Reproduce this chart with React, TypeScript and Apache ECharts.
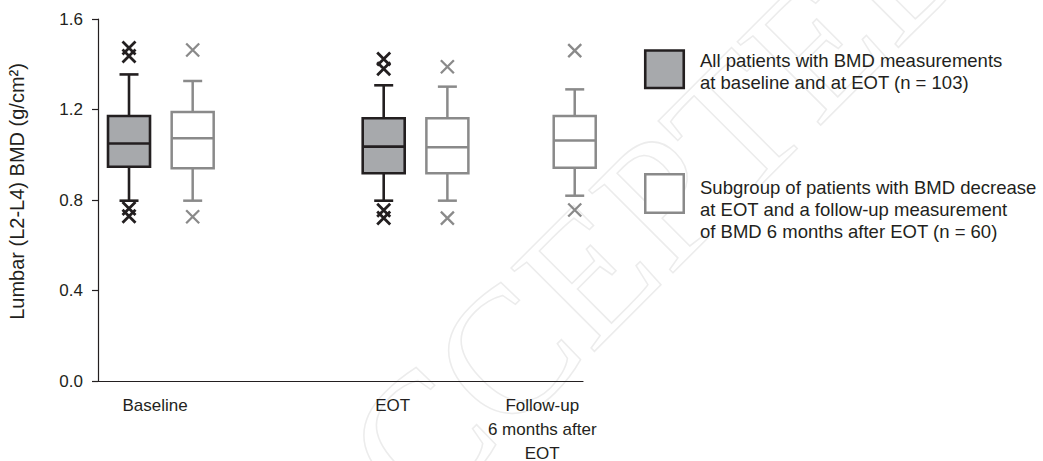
import React, { useEffect, useRef } from "react";
import * as echarts from "echarts";

// ---------- data ----------
const groupLabels = ["Baseline", "EOT", "Follow-up\n6 months after\nEOT"];
const groupLabelPositions = [0.41, 4.14, 6.49];
const yTickValues = [0, 0.4, 0.8, 1.2, 1.6];

// All patients with BMD measurements at baseline and at EOT (n = 103)
const allPositions = [0, 4];
const allMin = [0.797, 0.797];
const allQ1 = [0.947, 0.918];
const allMedian = [1.05, 1.036];
const allQ3 = [1.171, 1.161];
const allMax = [1.355, 1.307];
const allOutlierX = [0, 0, 0, 0, 4, 4, 4, 4];
const allOutlierY = [1.472, 1.436, 0.762, 0.728, 1.423, 1.38, 0.755, 0.72];

// Subgroup with BMD decrease at EOT and follow-up 6 months after EOT (n = 60)
const subPositions = [1, 5, 7];
const subMin = [0.797, 0.797, 0.819];
const subQ1 = [0.94, 0.918, 0.943];
const subMedian = [1.073, 1.033, 1.063];
const subQ3 = [1.189, 1.161, 1.171];
const subMax = [1.326, 1.301, 1.289];
const subOutlierX = [1, 1, 5, 5, 7, 7];
const subOutlierY = [1.463, 0.726, 1.389, 0.72, 1.46, 0.756];

const legendLabels = [
  "All patients with BMD measurements\nat baseline and at EOT (n = 103)",
  "Subgroup of patients with BMD decrease\nat EOT and a follow-up measurement\nof BMD 6 months after EOT (n = 60)",
];

// ---------- styles ----------
const FONT = '"Liberation Sans", Arial, Helvetica, sans-serif';
const TEXT = "#231f20";
const DARK = "#231f20";
const DARK_FILL = "#a7a9ac";
const GRAY = "#8a8a8a";
const BOX_W = 42;
const CAP_W = 19;
const CROSS = "path://M0,0L10,10M10,0L0,10";

const makeBoxRender = (stroke: string, fill: string, lw: number) =>
  (_params: any, api: any) => {
    const x = api.value(0);
    const [cx, yMin] = api.coord([x, api.value(1)]);
    const yQ1 = api.coord([x, api.value(2)])[1];
    const yMed = api.coord([x, api.value(3)])[1];
    const yQ3 = api.coord([x, api.value(4)])[1];
    const yMax = api.coord([x, api.value(5)])[1];
    const hw = BOX_W / 2;
    const cw = CAP_W / 2;
    const ls = { stroke, lineWidth: lw, fill: "none" };
    return {
      type: "group",
      children: [
        { type: "line", shape: { x1: cx, y1: yQ3, x2: cx, y2: yMax }, style: ls },
        { type: "line", shape: { x1: cx - cw, y1: yMax, x2: cx + cw, y2: yMax }, style: ls },
        { type: "line", shape: { x1: cx, y1: yQ1, x2: cx, y2: yMin }, style: ls },
        { type: "line", shape: { x1: cx - cw, y1: yMin, x2: cx + cw, y2: yMin }, style: ls },
        {
          type: "rect",
          shape: { x: cx - hw, y: yQ3, width: BOX_W, height: yQ1 - yQ3 },
          style: { fill, stroke, lineWidth: lw },
        },
        { type: "line", shape: { x1: cx - hw, y1: yMed, x2: cx + hw, y2: yMed }, style: ls },
      ],
    };
  };

export default function App() {
  const ref = useRef<HTMLDivElement>(null);

  useEffect(() => {
    if (!ref.current) return;
    const chart = echarts.init(ref.current, null, { renderer: "svg" });

    const allData = allPositions.map((p, i) => [p, allMin[i], allQ1[i], allMedian[i], allQ3[i], allMax[i]]);
    const subData = subPositions.map((p, i) => [p, subMin[i], subQ1[i], subMedian[i], subQ3[i], subMax[i]]);
    const allOut = allOutlierX.map((x, i) => [x, allOutlierY[i]]);
    const subOut = subOutlierX.map((x, i) => [x, subOutlierY[i]]);

    const option: any = {
      animation: false,
      textStyle: { fontFamily: FONT },
      grid: { left: 98, right: 460, top: 19, bottom: 80, containLabel: false, outerBoundsMode: "none" },
      xAxis: {
        type: "value",
        min: -0.487,
        max: 7.13,
        axisLine: { show: true, onZero: false, lineStyle: { color: DARK, width: 1.2 } },
        axisTick: { show: false },
        splitLine: { show: false },
        axisLabel: {
          customValues: groupLabelPositions,
          margin: 12,
          fontSize: 17,
          lineHeight: 24,
          color: TEXT,
          fontFamily: FONT,
          formatter: (v: number) => {
            let best = 0;
            groupLabelPositions.forEach((p, i) => {
              if (Math.abs(p - v) < Math.abs(groupLabelPositions[best] - v)) best = i;
            });
            return groupLabels[best];
          },
        },
      },
      yAxis: {
        type: "value",
        min: 0,
        max: 1.6,
        interval: 0.4,
        name: "Lumbar (L2-L4) BMD (g/cm²)",
        nameLocation: "middle",
        nameGap: 71,
        nameTextStyle: { fontSize: 20, color: TEXT, fontFamily: FONT, padding: [0, 0, 0, 17] },
        axisLine: { show: true, onZero: false, lineStyle: { color: DARK, width: 1.2 } },
        axisTick: { show: true, length: 6, lineStyle: { color: DARK, width: 1.2 } },
        splitLine: { show: false },
        axisLabel: {
          margin: 15,
          fontSize: 17,
          color: TEXT,
          fontFamily: FONT,
          formatter: (v: number) => {
            const t = yTickValues.find((y) => Math.abs(y - v) < 1e-6);
            return (t !== undefined ? t : v).toFixed(1);
          },
        },
      },
      series: [
        {
          type: "custom",
          name: "All patients",
          renderItem: makeBoxRender(DARK, DARK_FILL, 2.6),
          encode: { x: 0, y: [1, 2, 3, 4, 5] },
          data: allData,
          z: 3,
        },
        {
          type: "custom",
          name: "Subgroup",
          renderItem: makeBoxRender(GRAY, "#ffffff", 2.5),
          encode: { x: 0, y: [1, 2, 3, 4, 5] },
          data: subData,
          z: 3,
        },
        {
          type: "scatter",
          name: "All patients outliers",
          symbol: CROSS,
          symbolSize: 13,
          itemStyle: { color: DARK, borderColor: DARK, borderWidth: 2.8, opacity: 1 },
          data: allOut,
          z: 4,
        },
        {
          type: "scatter",
          name: "Subgroup outliers",
          symbol: CROSS,
          symbolSize: 13,
          itemStyle: { color: GRAY, borderColor: GRAY, borderWidth: 2.3, opacity: 1 },
          data: subOut,
          z: 4,
        },
      ],
      graphic: [
        {
          type: "text",
          x: 615,
          y: 245,
          rotation: Math.PI / 4,
          z: -10,
          silent: true,
          style: {
            text: "ACCEPTED",
            fontSize: 180,
            fontFamily: '"Liberation Serif", "DejaVu Serif", serif',
            fill: "none",
            stroke: "#ececec",
            lineWidth: 1.5,
            align: "center",
            verticalAlign: "middle",
          },
        },
        {
          type: "rect",
          shape: { x: 645.25, y: 50.5, width: 38.5, height: 37.5 },
          style: { fill: DARK_FILL, stroke: DARK, lineWidth: 2.6 },
        },
        {
          type: "text",
          x: 700,
          y: 49,
          style: {
            text: legendLabels[0],
            fontSize: 18.5,
            lineHeight: 22,
            fontFamily: FONT,
            fill: TEXT,
            verticalAlign: "top",
          },
        },
        {
          type: "rect",
          shape: { x: 645.25, y: 174.25, width: 38.5, height: 38.5 },
          style: { fill: "#ffffff", stroke: GRAY, lineWidth: 2.5 },
        },
        {
          type: "text",
          x: 700,
          y: 176,
          style: {
            text: legendLabels[1],
            fontSize: 18.5,
            lineHeight: 22,
            fontFamily: FONT,
            fill: TEXT,
            verticalAlign: "top",
          },
        },
      ],
    };

    chart.setOption(option);
    return () => chart.dispose();
  }, []);

  return (
    <div
      ref={ref}
      style={{ position: "absolute", left: 0, top: 0, width: 1043, height: 461, background: "#ffffff" }}
    />
  );
}
